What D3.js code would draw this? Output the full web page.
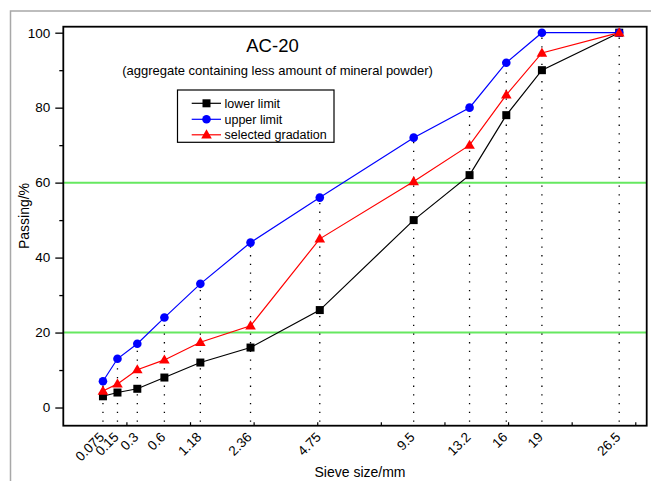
<!DOCTYPE html>
<html><head><meta charset="utf-8">
<script src="https://cdn.jsdelivr.net/npm/d3@7"></script>
<style>body{margin:0;background:#fff}svg{display:block}text{font-family:"Liberation Sans",Arial,sans-serif}</style>
</head><body><svg id="c" width="651" height="481"></svg>
<script>
const sieves = [0.075, 0.15, 0.3, 0.6, 1.18, 2.36, 4.75, 9.5, 13.2, 16, 19, 26.5];
const sieveLabels = ["0.075","0.15","0.3","0.6","1.18","2.36","4.75","9.5","13.2","16","19","26.5"];
const lowerLimit = [3, 4, 5, 8, 12, 16, 26, 50, 62, 78, 90, 100];
const upperLimit = [7, 13, 17, 24, 33, 44, 56, 72, 80, 92, 100, 100];
const selected = [4.4, 6.3, 10.1, 12.7, 17.4, 21.8, 45, 60.3, 70, 83.4, 94.6, 100];
const yTicks = [0, 20, 40, 60, 80, 100];
const yMinor = [10, 30, 50, 70, 90];
const greenLines = [20, 60];
const seriesNames = ["lower limit", "upper limit", "selected gradation"];
const seriesColors = ["#000000", "#0000ff", "#ff0000"];
const seriesShapes = ["square", "circle", "triangle"];

const svg = d3.select("#c");
const L = 63.3, R = 646.7, T = 26.7, B = 425.7;
const x = d3.scalePow().exponent(0.45).domain([0, 29.5]).range([L, R]);
const y = d3.scaleLinear().domain([-4.85, 101.6]).range([B, T]);

// outer gray frame
svg.append("rect").attr("x", 10.5).attr("y", 11).attr("width", 700).attr("height", 600)
  .attr("fill", "none").attr("stroke", "#a8a8a8").attr("stroke-width", 1.5);

// green reference lines
svg.selectAll(".g").data(greenLines).enter().append("line")
  .attr("x1", L).attr("x2", R).attr("y1", d => y(d)).attr("y2", d => y(d))
  .attr("stroke", "#66e860").attr("stroke-width", 2);

// dotted drop lines
svg.selectAll(".drop").data(sieves).enter().append("line")
  .attr("x1", d => x(d)).attr("x2", d => x(d))
  .attr("y1", B - 4).attr("y2", (d, i) => y(upperLimit[i]))
  .attr("stroke", "#000").attr("stroke-width", 1.3).attr("stroke-dasharray", "1.3,7.4");

// axes
const yAxis = d3.axisLeft(y).tickValues(yTicks).tickSize(8).tickPadding(5);
const gy = svg.append("g").attr("transform", `translate(${L},0)`).call(yAxis);
gy.select(".domain").remove();
gy.selectAll("line").attr("stroke-width", 1.3);
gy.selectAll("text").attr("font-size", 13.5).attr("fill", "#000");
const gym = svg.append("g").attr("transform", `translate(${L},0)`)
  .call(d3.axisLeft(y).tickValues(yMinor).tickSize(4).tickFormat(""));
gym.select(".domain").remove();
gym.selectAll("line").attr("stroke-width", 1.3);

// x ticks (inward) at regular intervals in transformed space
const tLin = d3.scaleLinear().domain([0, Math.pow(29.5, 0.45)]).range([L, R]);
svg.selectAll(".xt").data(d3.range(0.5, 4.6, 0.5)).enter().append("line")
  .attr("x1", d => tLin(d)).attr("x2", d => tLin(d)).attr("y1", B).attr("y2", B - 3.5)
  .attr("stroke", "#000").attr("stroke-width", 1.2);

// x labels at sieve positions
svg.selectAll(".xl").data(sieves).enter().append("text")
  .attr("transform", d => `translate(${x(d) + 2},${B + 12.3}) rotate(-45)`)
  .attr("text-anchor", "end").attr("font-size", 13.5)
  .text((d, i) => sieveLabels[i]);

// frame
svg.append("rect").attr("x", L).attr("y", T).attr("width", R - L).attr("height", B - T)
  .attr("fill", "none").attr("stroke", "#000").attr("stroke-width", 1.8);

// series
const allSeries = [lowerLimit, upperLimit, selected];
const line = d3.line().x((d, i) => x(sieves[i])).y(d => y(d));
function marker(g, shape, color, cx, cy) {
  if (shape === "square") g.append("rect").attr("x", cx - 4).attr("y", cy - 4).attr("width", 8).attr("height", 8).attr("fill", color);
  else if (shape === "circle") g.append("circle").attr("cx", cx).attr("cy", cy).attr("r", 4.3).attr("fill", color);
  else g.append("path").attr("d", `M${cx},${cy - 5.5}L${cx + 5.3},${cy + 3.7}L${cx - 5.3},${cy + 3.7}Z`).attr("fill", color);
}
const order = [0, 1, 2];
order.forEach(s => {
  svg.append("path").datum(allSeries[s]).attr("d", line).attr("fill", "none")
    .attr("stroke", seriesColors[s]).attr("stroke-width", 1.2);
});
order.forEach(s => {
  const g = svg.append("g");
  allSeries[s].forEach((v, i) => marker(g, seriesShapes[s], seriesColors[s], x(sieves[i]), y(v)));
});

// titles
svg.append("text").attr("x", 272.5).attr("y", 52).attr("text-anchor", "middle").attr("font-size", 18.5).text("AC-20");
svg.append("text").attr("x", 277.5).attr("y", 75).attr("text-anchor", "middle").attr("font-size", 13).text("(aggregate containing less amount of mineral powder)");

// legend
svg.append("rect").attr("x", 177.5).attr("y", 90).attr("width", 156.5).attr("height", 52.3)
  .attr("fill", "#fff").attr("stroke", "#000").attr("stroke-width", 1.2);
const ly = [103.3, 119.3, 134.8];
seriesNames.forEach((n, s) => {
  const g = svg.append("g");
  g.append("line").attr("x1", 191.7).attr("x2", 221).attr("y1", ly[s]).attr("y2", ly[s])
    .attr("stroke", seriesColors[s]).attr("stroke-width", 1.2);
  marker(g, seriesShapes[s], seriesColors[s], 206.5, ly[s]);
  g.append("text").attr("x", 224.5).attr("y", ly[s]).attr("dy", "0.35em").attr("font-size", 12.5).text(n);
});

// axis titles
svg.append("text").attr("x", 360).attr("y", 477).attr("text-anchor", "middle").attr("font-size", 14).text("Sieve size/mm");
svg.append("text").attr("transform", "translate(29,216) rotate(-90)").attr("text-anchor", "middle").attr("font-size", 14).text("Passing/%");
</script></body></html>
